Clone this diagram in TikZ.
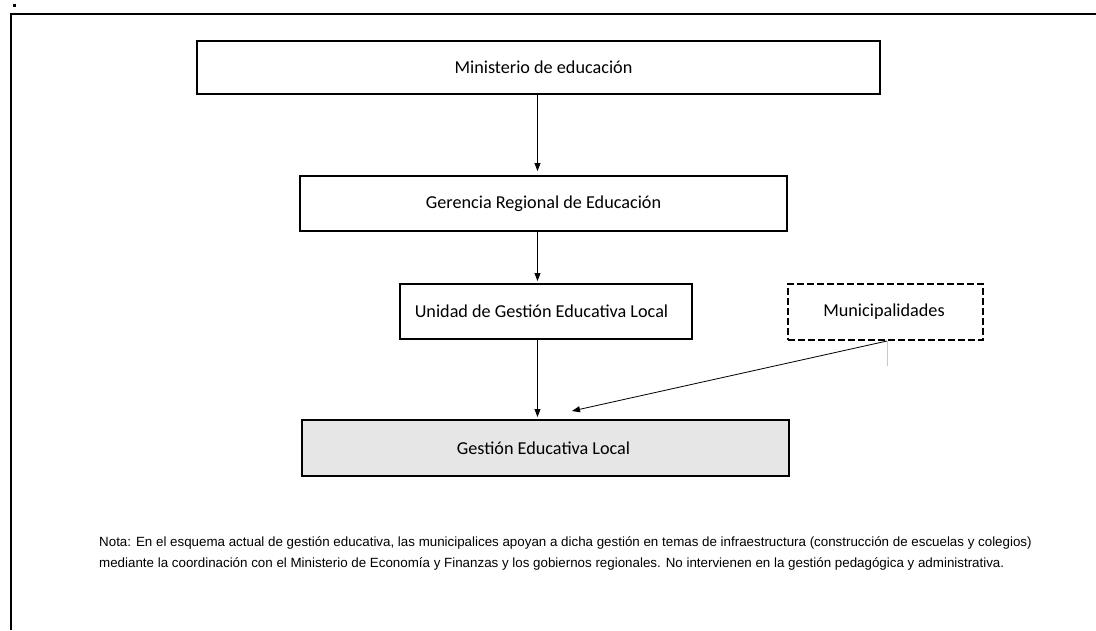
\documentclass[tikz,border=0pt]{standalone}
\usepackage{fontspec}
\setmainfont{Carlito}
\newfontfamily\notefont{Liberation Sans}
\usetikzlibrary{arrows.meta}
\definecolor{boxgray}{HTML}{E6E6E6}
\definecolor{stubgray}{HTML}{C8C8C8}
\tikzset{
  orgbox/.style={draw=black, line width=2pt, fill=white, minimum height=55pt, inner sep=0pt},
  dashbox/.style={orgbox, dash pattern=on 7pt off 3pt},
  boxtext/.style={inner sep=0pt, font=\fontsize{18.2}{21}\selectfont},
  link/.style={draw=black, line width=0.8pt, -{Triangle[length=8pt,width=6pt]}},
  frame/.style={draw=black, line width=2pt},
}
\begin{document}
\begin{tikzpicture}[x=1pt,y=-1pt]
\useasboundingbox (0,0) rectangle (1096,630);
% frame
\draw[frame] (10,14) -- (1096,14);
\draw[frame] (11,13) -- (11,630);
\fill (13,4) rectangle (16,7);
% boxes
\node[orgbox, minimum width=683pt, minimum height=53pt] (mini) at (538.5,67.5) {};
\node[orgbox, minimum width=487pt] (ger) at (543.5,203.5) {};
\node[orgbox, minimum width=292pt] (uni) at (546,311.5) {};
\node[dashbox, minimum width=195pt, minimum height=56pt] (muni) at (885.5,312) {};
\node[orgbox, fill=boxgray, minimum width=487pt, minimum height=56pt] (gest) at (545.5,448) {};
% texts
\coordinate (tx) at (543.5,0);
\node[boxtext] (minit) at (tx |- mini.center) {Ministerio de educación};
\node[boxtext] (gert) at (tx |- ger.center) {Gerencia Regional de Educación};
\node[boxtext] (unit) at ([xshift=-2pt]tx |- uni.center) {Unidad de Gestión Educativa Local};
\node[boxtext] (munit) at ([xshift=-1.5pt]muni.center) {Municipalidades};
\node[boxtext] (gestt) at (tx |- gest.center) {Gestión Educativa Local};
% connectors
\coordinate (axis) at (537.5,0);
\coordinate (mtip) at (572,411);
\draw[link, shorten >=4pt] (axis |- mini.south) -- (axis |- ger.north);
\draw[link, shorten >=2pt] (axis |- ger.south) -- (axis |- uni.north);
\draw[link, shorten >=2pt] (axis |- uni.south) -- (axis |- gest.north);
\draw[stubgray, line width=1pt] ([xshift=1.5pt]muni.south) -- ++(0,25);
\draw[link] ([xshift=1.5pt]muni.south) -- (mtip);
% note
\node[anchor=base west, align=left, inner sep=0pt, font=\notefont\fontsize{13.35}{21}\selectfont] (nota) at (99,567)
{Nota: En el esquema actual de gestión educativa, las municipalices apoyan a dicha gestión en temas de infraestructura (construcción de escuelas y colegios)\\
mediante la coordinación con el Ministerio de Economía y Finanzas y los gobiernos regionales. No intervienen en la gestión pedagógica y administrativa.};
\end{tikzpicture}
\end{document}
